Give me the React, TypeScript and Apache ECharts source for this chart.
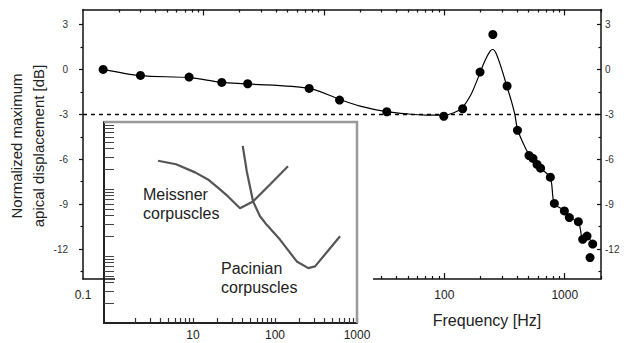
import { useEffect, useRef } from "react";
import * as echarts from "echarts";

// Main chart: measured points (frequency in Hz, normalized displacement in dB)
const pointFreq = [0.147, 0.3, 0.76, 1.42, 2.33, 7.55, 13.5, 33.3, 99, 142, 198, 253, 332, 405, 505, 545, 589, 630, 759, 820, 993, 1092, 1297, 1410, 1531, 1707, 1622];
const pointDb = [0, -0.4, -0.51, -0.87, -0.96, -1.27, -2.05, -2.83, -3.13, -2.63, -0.18, 2.33, -1.11, -4.07, -5.75, -5.95, -6.35, -6.6, -7.2, -8.95, -9.45, -9.9, -10.17, -11.35, -11.13, -11.67, -12.57];

// Main chart: fitted curve
const fitFreq = [0.147, 0.3, 0.76, 1.42, 2.33, 7.55, 13.5, 20, 33, 50, 70, 99, 120, 141, 165, 190, 215, 240, 253, 270, 300, 330, 360, 385, 405, 450, 505, 545, 590, 630, 760, 820, 1000, 1090, 1300, 1410, 1530, 1700];
const fitDb = [0, -0.42, -0.55, -0.87, -0.97, -1.27, -2.0, -2.45, -2.82, -2.98, -3.05, -3.05, -2.9, -2.55, -1.75, -0.6, 0.5, 1.22, 1.33, 1.05, 0.0, -1.1, -2.1, -3.0, -4.0, -4.9, -5.7, -5.95, -6.4, -6.6, -7.25, -8.95, -9.45, -9.9, -10.2, -11.3, -11.15, -11.7];

// Inset: tactile receptor threshold curves (frequency in Hz, relative threshold)
const meissnerFreq = [3.74, 6.2, 10.6, 15.2, 21.3, 26.7, 37.4, 53.9, 86.9, 144];
const meissnerThr = [264, 234, 177, 139, 98.6, 77.5, 51.7, 65.2, 117, 218];
const pacinianFreq = [40.4, 45.2, 54, 65.6, 79.2, 115, 184, 255, 308, 621];
const pacinianThr = [440, 184, 65, 39.2, 29.2, 17.6, 8.3, 6.6, 7.0, 19.7];

// Tick / label values
const xMajorTicks = [1, 10, 100, 1000];
const xLabelValues = [0.1, 100, 1000];
const mainDecades = [0.1, 1, 10, 100, 1000];
const logMultipliers = [2, 3, 4, 5, 6, 7, 8, 9];
const yMajorTicks = [-12, -9, -6, -3, 0, 3];
const yMinorTicks = [-13.5, -10.5, -7.5, -4.5, -1.5, 1.5];
const insetDecades = [1, 10, 100];
const insetXLabels = [10, 100, 1000];
const insetXMajor = [10, 100, 1000];
const insetYMajor = [10, 100];

const xMinorTicks = mainDecades
  .flatMap((d) => logMultipliers.map((m) => +(d * m).toPrecision(3)))
  .filter((v) => v <= 2000);
const insetMinor = insetDecades.flatMap((d) => logMultipliers.map((m) => +(d * m).toPrecision(3)));
const insetXTicks = [...insetMinor, ...insetXMajor];
const insetYTicks = [...insetMinor, ...insetYMajor];

const FONT = "'Liberation Sans', Arial, sans-serif";

export default function App() {
  const ref = useRef<HTMLDivElement>(null);

  useEffect(() => {
    if (!ref.current) return;
    const chart = echarts.init(ref.current, undefined, { renderer: "svg" });

    const lineStyle = { color: "#111", width: 1.5 };
    const tickStyle = { color: "#111", width: 1.2 };
    const fmt = (v: number) => String(Math.round(v * 1000) / 1000);

    const mainX = (extra: any) => ({
      gridIndex: 0,
      type: "log",
      logBase: 10,
      min: 0.1,
      max: 2000,
      splitLine: { show: false },
      minorTick: { show: false },
      ...extra,
    });
    const mainY = (extra: any) => ({
      gridIndex: 0,
      type: "value",
      min: -14,
      max: 4,
      splitLine: { show: false },
      ...extra,
    });

    const option: any = {
      animation: false,
      textStyle: { fontFamily: FONT },
      grid: [
        { left: 83, top: 9.5, right: 23, bottom: 64, containLabel: false },
        { left: 104, top: 122, width: 253, height: 201, show: false },
      ],
      xAxis: [
        mainX({
          position: "bottom",
          axisLine: { show: true, onZero: false, lineStyle },
          axisTick: { show: true, inside: true, length: 6, customValues: xMajorTicks, lineStyle: tickStyle },
          axisLabel: { show: true, customValues: xLabelValues, margin: 10, fontSize: 12, color: "#222", formatter: fmt },
        }),
        mainX({
          position: "bottom",
          axisLine: { show: false, onZero: false },
          axisTick: { show: true, inside: true, length: 3, customValues: xMinorTicks, lineStyle: tickStyle },
          axisLabel: { show: false },
        }),
        mainX({
          position: "top",
          axisLine: { show: true, onZero: false, lineStyle },
          axisTick: { show: true, inside: true, length: 6, customValues: xMajorTicks, lineStyle: tickStyle },
          axisLabel: { show: false },
        }),
        mainX({
          position: "top",
          axisLine: { show: false, onZero: false },
          axisTick: { show: true, inside: true, length: 3, customValues: xMinorTicks, lineStyle: tickStyle },
          axisLabel: { show: false },
        }),
        {
          gridIndex: 1,
          type: "log",
          logBase: 10,
          min: 0.82,
          max: 1000,
          position: "bottom",
          splitLine: { show: false },
          minorTick: { show: false },
          axisLine: { show: true, onZero: false, lineStyle: { color: "#222", width: 2 } },
          axisTick: { show: true, inside: true, length: 5, customValues: insetXTicks, lineStyle: { color: "#333", width: 1.2 } },
          axisLabel: { show: true, customValues: insetXLabels, margin: 6, fontSize: 12, color: "#222", formatter: fmt },
        },
      ],
      yAxis: [
        mainY({
          position: "left",
          axisLine: { show: true, onZero: false, lineStyle },
          axisTick: { show: true, inside: false, length: 4, customValues: yMajorTicks, lineStyle: tickStyle },
          axisLabel: { show: true, customValues: yMajorTicks, margin: 15, fontSize: 10, color: "#333" },
        }),
        mainY({
          position: "left",
          axisLine: { show: false, onZero: false },
          axisTick: { show: true, inside: false, length: 2.5, customValues: yMinorTicks, lineStyle: tickStyle },
          axisLabel: { show: false },
        }),
        mainY({
          position: "right",
          axisLine: { show: true, onZero: false, lineStyle },
          axisTick: { show: true, inside: true, length: 4, customValues: yMajorTicks, lineStyle: tickStyle },
          axisLabel: { show: true, customValues: yMajorTicks, margin: 4, fontSize: 10, color: "#333" },
        }),
        mainY({
          position: "right",
          axisLine: { show: false, onZero: false },
          axisTick: { show: true, inside: true, length: 2.5, customValues: yMinorTicks, lineStyle: tickStyle },
          axisLabel: { show: false },
        }),
        {
          gridIndex: 1,
          type: "log",
          logBase: 10,
          min: 1,
          max: 1000,
          position: "left",
          splitLine: { show: false },
          minorTick: { show: false },
          axisLine: { show: true, onZero: false, lineStyle: { color: "#222", width: 2 } },
          axisTick: { show: true, inside: true, length: 10, customValues: insetYTicks, lineStyle: { color: "#444", width: 1 } },
          axisLabel: { show: false },
        },
      ],
      series: [
        {
          type: "line",
          xAxisIndex: 0,
          yAxisIndex: 0,
          data: fitFreq.map((f, i) => [f, fitDb[i]]),
          smooth: 0.3,
          symbol: "none",
          lineStyle: { color: "#000", width: 1.2 },
          z: 2,
        },
        {
          type: "scatter",
          xAxisIndex: 0,
          yAxisIndex: 0,
          data: pointFreq.map((f, i) => [f, pointDb[i]]),
          symbol: "circle",
          symbolSize: 9,
          itemStyle: { color: "#000", opacity: 1 },
          z: 3,
          markLine: {
            silent: true,
            symbol: "none",
            label: { show: false },
            lineStyle: { color: "#000", width: 1.3, type: [4, 4] },
            data: [{ yAxis: -3 }],
          },
        },
        {
          type: "line",
          xAxisIndex: 4,
          yAxisIndex: 4,
          data: meissnerFreq.map((f, i) => [f, meissnerThr[i]]),
          symbol: "none",
          lineStyle: { color: "#555", width: 2.2 },
          z: 40,
        },
        {
          type: "line",
          xAxisIndex: 4,
          yAxisIndex: 4,
          data: pacinianFreq.map((f, i) => [f, pacinianThr[i]]),
          symbol: "none",
          lineStyle: { color: "#555", width: 2.2 },
          z: 40,
        },
      ],
      graphic: [
        {
          // hides the part of the main frequency axis that lies behind the inset
          type: "rect",
          z: 10,
          silent: true,
          shape: { x: 115, y: 271, width: 258, height: 12 },
          style: { fill: "#fff" },
        },
        {
          type: "polyline",
          z: 11,
          silent: true,
          shape: { points: [[104, 122], [357, 122], [357, 323]] },
          style: { fill: "none", stroke: "#999", lineWidth: 2.5 },
        },
        {
          type: "text",
          z: 30,
          x: 27,
          y: 146,
          rotation: Math.PI / 2,
          style: {
            text: "Normalized maximum\napical displacement [dB]",
            fontFamily: FONT,
            fontSize: 15,
            lineHeight: 22,
            fill: "#222",
            textAlign: "center",
            textVerticalAlign: "middle",
          },
        },
        {
          type: "text",
          z: 30,
          x: 487,
          y: 320,
          style: {
            text: "Frequency [Hz]",
            fontFamily: FONT,
            fontSize: 16,
            fill: "#222",
            textAlign: "center",
            textVerticalAlign: "middle",
          },
        },
        {
          type: "text",
          z: 60,
          x: 143,
          y: 204,
          style: {
            text: "Meissner\ncorpuscles",
            fontFamily: FONT,
            fontSize: 16,
            lineHeight: 19,
            fill: "#222",
            textAlign: "left",
            textVerticalAlign: "middle",
          },
        },
        {
          type: "text",
          z: 60,
          x: 221,
          y: 278,
          style: {
            text: "Pacinian\ncorpuscles",
            fontFamily: FONT,
            fontSize: 16,
            lineHeight: 19,
            fill: "#222",
            textAlign: "left",
            textVerticalAlign: "middle",
          },
        },
      ],
    };

    chart.setOption(option);
    return () => chart.dispose();
  }, []);

  return (
    <div
      ref={ref}
      style={{ position: "fixed", left: 0, top: 0, width: 624, height: 343, background: "#fff" }}
    />
  );
}
